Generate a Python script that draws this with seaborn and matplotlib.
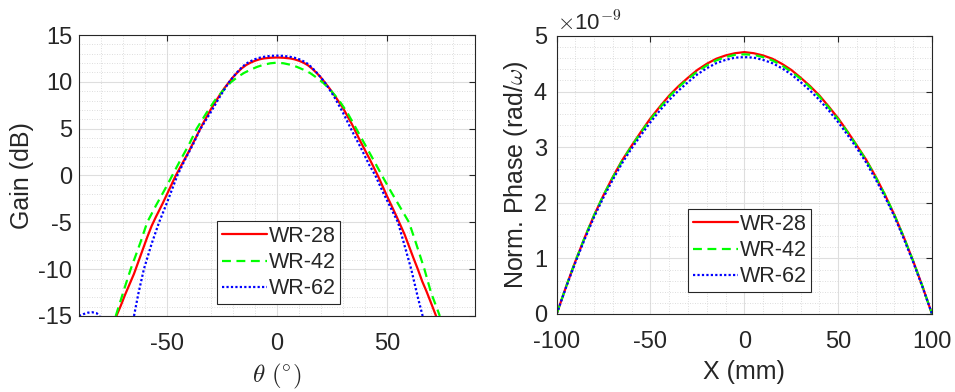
import matplotlib
matplotlib.use("Agg")
import matplotlib.pyplot as plt
from matplotlib.ticker import MultipleLocator
import numpy as np
import pandas as pd
import seaborn as sns

# ---- left panel: gain pattern (deg, dB) ----
theta_wr28 = [-73, -71, -69, -67, -65, -63, -61, -59, -57, -55, -52, -49, -46, -43, -40, -37, -34,
              -30, -26, -24, -22, -20, -18, -16, -14, -12, -10, -8, -6, -3, 0, 3, 6, 8, 10, 12, 14,
              16, 18, 20, 22, 24, 26, 30, 34, 38, 42, 46, 50, 54, 58, 62, 64, 66, 68, 70, 72.3]
gain_wr28 = [-15.0, -13.9, -12.7, -11.6, -10.5, -9.2, -7.9, -6.6, -5.4, -4.4, -3.0, -1.5, 0.0, 1.3,
             2.6, 4.0, 5.4, 7.1, 8.6, 9.3, 9.9, 10.5, 11.0, 11.45, 11.8, 12.05, 12.25, 12.4, 12.5,
             12.57, 12.6, 12.57, 12.5, 12.4, 12.25, 12.05, 11.78, 11.4, 10.95, 10.45, 9.85, 9.25,
             8.6, 7.2, 5.5, 3.6, 1.8, -0.1, -2.2, -4.2, -6.3, -8.8, -10.0, -11.3, -12.4, -13.6,
             -15.0]

theta_wr42 = [-73.3, -71, -69, -66.5, -64, -62, -59, -55, -51, -47.6, -44, -40, -36.5, -32, -28,
              -24, -21, -18, -15, -12, -9, -6, -3, 0, 3, 6, 9, 12, 15, 18, 21, 24, 28, 32, 36, 40,
              44, 47.7, 52, 56, 60, 63, 67, 70, 74]
gain_wr42 = [-15.0, -13.3, -11.8, -10.0, -8.4, -7.1, -5.0, -3.2, -1.5, 0.0, 1.6, 3.3, 5.0, 6.7, 8.1,
             9.2, 9.95, 10.5, 10.95, 11.3, 11.6, 11.83, 11.98, 12.05, 11.98, 11.83, 11.6, 11.3,
             10.95, 10.45, 9.9, 9.2, 8.1, 6.7, 5.0, 3.3, 1.6, 0.0, -1.8, -3.4, -5.0, -7.1, -10.0,
             -12.5, -15.0]

theta_wr62 = [-65, -63, -60.5, -57, -53.6, -50, -45.3, -42, -38, -35, -30, -26, -22, -20, -18, -16,
              -14, -12, -10, -8, -6, -3, 0, 3, 6, 8, 10, 12, 14, 16, 18, 20, 22, 26, 30, 34, 38,
              42, 44.7, 48, 52, 55, 58, 61, 64, 66.2]
gain_wr62 = [-15.0, -12.6, -10.0, -7.3, -5.0, -2.9, 0.0, 1.6, 3.4, 4.9, 6.8, 8.4, 9.9, 10.5, 11.05,
             11.55, 11.95, 12.2, 12.42, 12.57, 12.67, 12.77, 12.8, 12.77, 12.67, 12.57, 12.42,
             12.2, 11.92, 11.5, 11.0, 10.45, 9.85, 8.4, 6.7, 4.8, 3.0, 1.1, 0.0, -1.7, -3.6, -5.0,
             -7.5, -10.0, -13.0, -15.0]

# WR-62 side lobe peeking above the -15 dB floor
theta_wr62_side = [-90, -88, -86, -84, -82, -80.5]
gain_wr62_side = [-15.0, -14.8, -14.65, -14.6, -14.7, -15.0]

# ---- right panel: normalized phase (x 1e-9 rad/omega) across aperture ----
x_mm = list(range(-100, 101, 5))
phase_wr28 = [0.00, 0.49, 0.95, 1.38, 1.78, 2.14, 2.47, 2.77, 3.03, 3.28, 3.52, 3.73, 3.93, 4.10,
              4.25, 4.39, 4.50, 4.59, 4.65, 4.69, 4.71, 4.69, 4.65, 4.59, 4.50, 4.39, 4.25, 4.10,
              3.93, 3.73, 3.52, 3.28, 3.03, 2.77, 2.47, 2.14, 1.78, 1.38, 0.95, 0.49, 0.00]
phase_wr42 = [0.00, 0.49, 0.95, 1.38, 1.78, 2.14, 2.46, 2.76, 3.02, 3.27, 3.50, 3.71, 3.91, 4.08,
              4.23, 4.36, 4.47, 4.56, 4.62, 4.66, 4.67, 4.66, 4.62, 4.56, 4.47, 4.36, 4.23, 4.08,
              3.91, 3.71, 3.50, 3.27, 3.02, 2.76, 2.46, 2.14, 1.78, 1.38, 0.95, 0.49, 0.00]
phase_wr62 = [0.00, 0.48, 0.93, 1.35, 1.75, 2.10, 2.42, 2.72, 2.98, 3.22, 3.45, 3.66, 3.85, 4.02,
              4.17, 4.31, 4.42, 4.51, 4.57, 4.61, 4.62, 4.61, 4.57, 4.51, 4.42, 4.31, 4.17, 4.02,
              3.85, 3.66, 3.45, 3.22, 2.98, 2.72, 2.42, 2.10, 1.75, 1.35, 0.93, 0.48, 0.00]

labels = ["WR-28", "WR-42", "WR-62"]
colors = ["#ff0000", "#00ff00", "#0000ff"]
styles = ["-", (0, (4, 2.5)), (0, (1, 1))]

sns.set_theme(style="white")
plt.rcParams["font.family"] = ["Liberation Sans", "DejaVu Sans"]
plt.rcParams["mathtext.fontset"] = "cm"
plt.rcParams["axes.unicode_minus"] = False

fig = plt.figure(figsize=(9.55, 3.92), dpi=100)
ax1 = fig.add_axes([0.0827, 0.1939, 0.4147, 0.7168])
ax2 = fig.add_axes([0.5829, 0.1990, 0.3930, 0.7092])

gain_sets = [(theta_wr28, gain_wr28), (theta_wr42, gain_wr42), (theta_wr62, gain_wr62)]
for (th, g), lab, c, ls in zip(gain_sets, labels, colors, styles):
    sns.lineplot(x=th, y=g, ax=ax1, color=c, linestyle=ls, linewidth=1.6, label=lab, sort=False)
sns.lineplot(x=theta_wr62_side, y=gain_wr62_side, ax=ax1, color=colors[2], linestyle=styles[2],
             linewidth=1.6, sort=False)

phase_sets = [phase_wr28, phase_wr42, phase_wr62]
for p, lab, c, ls in zip(phase_sets, labels, colors, styles):
    sns.lineplot(x=x_mm, y=p, ax=ax2, color=c, linestyle=ls, linewidth=1.6, label=lab, sort=False)


def matlab_axes(ax):
    for s in ax.spines.values():
        s.set_color("#262626")
        s.set_linewidth(0.8)
    ax.tick_params(which="major", direction="in", top=True, right=True, length=4,
                   width=0.8, color="#262626", labelsize=17, labelcolor="#262626")
    ax.tick_params(which="minor", length=0, top=True, right=True)
    ax.grid(True, which="major", color="#dedede", linewidth=0.8, linestyle="-")
    ax.grid(True, which="minor", color="#d2d2d2", linewidth=0.6, linestyle=(0, (1, 2)))
    ax.set_axisbelow(True)


ax1.set_xlim(-90, 90)
ax1.set_ylim(-15, 15)
ax1.xaxis.set_major_locator(MultipleLocator(50))
ax1.xaxis.set_minor_locator(MultipleLocator(10))
ax1.yaxis.set_major_locator(MultipleLocator(5))
ax1.yaxis.set_minor_locator(MultipleLocator(1))
matlab_axes(ax1)
ax1.tick_params(axis="x", pad=12)
ax1.tick_params(axis="y", pad=5)
ax1.set_xlabel(r"$\theta\ (^{\circ})$", fontsize=18, color="#262626", labelpad=5)
ax1.set_ylabel("Gain (dB)", fontsize=18, color="#262626", labelpad=3)

ax2.set_xlim(-100, 100)
ax2.set_ylim(0, 5)
ax2.xaxis.set_major_locator(MultipleLocator(50))
ax2.xaxis.set_minor_locator(MultipleLocator(10))
ax2.yaxis.set_major_locator(MultipleLocator(1))
ax2.yaxis.set_minor_locator(MultipleLocator(0.2))
matlab_axes(ax2)
ax2.tick_params(axis="x", pad=12)
ax2.tick_params(axis="y", pad=7)
ax2.text(0.0, 1.0, r"$\times$10$^{-9}$", transform=ax2.transAxes, fontsize=16,
         color="#262626", ha="left", va="bottom")
ax2.set_xlabel("X (mm)", fontsize=18, color="#262626", labelpad=5)
ax2.set_ylabel(r"Norm. Phase (rad/$\omega$)", fontsize=18, color="#262626", labelpad=3)

for ax, anchor in [(ax1, (0.505, 0.19)), (ax2, (0.515, 0.228))]:
    leg = ax.legend(loc="center", bbox_to_anchor=anchor, fontsize=15.5, frameon=True,
                    fancybox=False, framealpha=1, edgecolor="#262626", handlelength=2.1,
                    handletextpad=0.1, labelspacing=0.25, borderpad=0.2, borderaxespad=0)
    leg.get_frame().set_linewidth(0.8)

fig.savefig("out.png", dpi=100)
